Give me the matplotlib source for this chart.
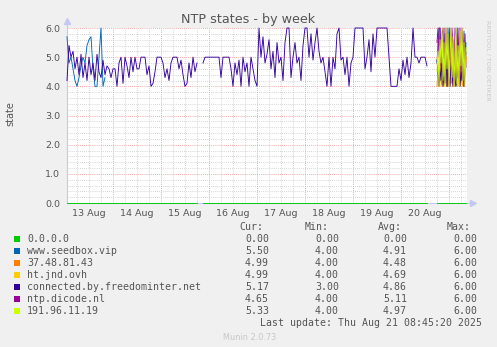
import numpy as np
import matplotlib
matplotlib.use('Agg')
import matplotlib.pyplot as plt
from matplotlib.patches import Rectangle
from matplotlib.lines import Line2D
from matplotlib.transforms import blended_transform_factory

W, H = 497, 347
nan = np.nan

# hours counted from 13 Aug 00:00
hours_main = np.arange(1, 182)          # h1 .. h181, hourly
hours_early = np.arange(1, 21)          # h1 .. h20
hours_end = np.arange(186, 201, 0.5)    # last half-hourly stretch

# connected.by.freedominter.net, whole week
freedom_main = [
    4.2, 5.4, 5.0, 5.2, 4.6, 5.0, 4.4, 5.1, 4.3, 4.8, 4.2, 5.0,
    4.4, 4.8, 4.2, 5.1, 4.5, 4.3, 4.9, 4.4, 4.7, 4.6, 4.3, 4.6,
    4.6, 4.0, 4.8, 5.0, 4.1, 5.0, 4.7, 4.3, 5.0, 4.5, 5.0, 4.6,
    4.6, 5.0, 5.0, 5.0, 4.4, 4.7, 4.0, 4.1, 4.5, 5.0, 5.0, 5.0,
    4.8, 4.3, 4.6, 4.2, 4.8, 5.0, 5.0, 5.0, 4.6, 4.9, 4.4, 4.0,
    4.1, 4.8, 4.3, 5.0, 4.5, 4.8, nan, nan, 4.8, 5.0, 5.0, 5.0,
    5.0, 5.0, 5.0, 5.0, 5.0, 4.3, 5.0, 5.0, 5.0, 5.0, 4.6, 4.0,
    4.8, 4.4, 4.9, 4.0, 5.0, 4.5, 4.8, 4.0, 5.0, 4.6, 4.2, 4.0,
    6.0, 5.0, 5.7, 4.8, 5.1, 5.6, 4.6, 5.2, 4.3, 5.5, 4.8, 5.0,
    4.2, 5.5, 6.0, 6.0, 4.3, 5.0, 5.5, 4.8, 5.0, 4.2, 5.4, 6.0,
    6.0, 5.0, 5.8, 4.9, 5.5, 6.0, 5.2, 4.8, 5.0, 4.5, 4.0, 5.0,
    4.0, 5.0, 4.6, 5.8, 6.0, 4.9, 5.0, 4.4, 5.0, 4.0, 4.8, 5.0,
    6.0, 6.0, 6.0, 6.0, 6.0, 4.6, 5.0, 5.6, 4.5, 5.8, 5.0, 6.0,
    6.0, 6.0, 6.0, 6.0, 6.0, 5.0, 4.0, 4.0, 4.0, 4.0, 4.6, 4.2,
    4.9, 4.4, 5.0, 4.3, 4.8, 6.0, 5.0, 5.0, 4.8, 5.0, 5.0, 5.0,
    4.7,
]
seedbox_early = [5.7, 4.8, 5.0, 4.6, 4.2, 4.0, 4.3, 4.7, 5.0, 4.8,
                 5.4, 5.6, 5.7, 4.6, 4.0, 4.0, 5.0, 6.0, 4.0, 4.3]

# last ~15 hours, all servers
seedbox_end = [4.8, 5.5, 6.0, 6.0, 5.2, 4.5, 5.0, 4.2, 5.8, 4.6,
               4.0, 5.3, 6.0, 4.4, 5.0, 4.1, 5.6, 4.8, 4.0, 5.2,
               6.0, 4.5, 4.9, 5.7, 4.2, 5.0, 4.6, 5.9, 4.4, 5.5]
ip37_end = [4.0, 4.6, 4.0, 5.0, 4.2, 4.0, 4.8, 4.0, 4.4, 5.2,
            4.0, 4.1, 4.6, 4.0, 5.5, 4.2, 4.0, 4.7, 4.0, 4.3,
            5.0, 4.0, 4.5, 4.0, 4.9, 4.1, 4.0, 5.2, 4.4, 4.99]
jnd_end = [5.0, 4.2, 4.8, 4.0, 5.5, 4.4, 4.0, 5.0, 4.6, 4.0,
           5.8, 4.3, 4.0, 4.9, 4.2, 5.3, 4.0, 4.5, 5.6, 4.1,
           4.0, 5.0, 4.4, 4.0, 5.4, 4.6, 4.0, 4.8, 4.3, 4.99]
freedom_end = [4.9, 4.5, 4.0, 4.6, 4.2, 5.0, 4.0, 4.4, 4.1, 5.2,
               4.0, 4.7, 4.3, 4.0, 4.8, 4.5, 4.0, 5.0, 4.2, 4.0,
               4.6, 4.3, 5.1, 4.0, 4.5, 4.2, 4.9, 4.0, 4.6, 5.17]
dicode_end = [5.5, 6.0, 5.0, 6.0, 4.6, 5.8, 6.0, 4.4, 6.0, 5.2,
              6.0, 4.0, 5.6, 6.0, 4.8, 6.0, 5.3, 4.2, 6.0, 5.7,
              4.5, 6.0, 5.0, 6.0, 4.3, 6.0, 5.4, 4.0, 5.8, 4.65]
ip191_end = [4.5, 5.2, 4.0, 5.6, 4.8, 6.0, 4.2, 5.5, 4.0, 6.0,
             4.6, 5.8, 4.0, 5.0, 6.0, 4.3, 5.7, 4.0, 5.2, 6.0,
             4.1, 5.4, 4.0, 5.9, 4.7, 6.0, 4.2, 5.5, 4.0, 5.33]

names = ['0.0.0.0', 'www.seedbox.vip', '37.48.81.43', 'ht.jnd.ovh',
         'connected.by.freedominter.net', 'ntp.dicode.nl', '191.96.11.19']
colors = ['#00cc00', '#0066b3', '#ff8000', '#ffcc00', '#330099', '#990099', '#ccff00']
cur = [0.00, 5.50, 4.99, 4.99, 5.17, 4.65, 5.33]
vmin = [0.00, 4.00, 4.00, 4.00, 3.00, 4.00, 4.00]
vavg = [0.00, 4.91, 4.48, 4.69, 4.86, 5.11, 4.97]
vmax = [0.00, 6.00, 6.00, 6.00, 6.00, 6.00, 6.00]

day_labels = ['13 Aug', '14 Aug', '15 Aug', '16 Aug', '17 Aug', '18 Aug', '19 Aug', '20 Aug']

# join stretches with a NaN so the line breaks in between
def joined(t1, v1, t2, v2):
    t = np.concatenate([t1, [(t1[-1] + t2[0]) / 2], t2])
    v = np.concatenate([v1, [nan], v2])
    return t, v

t_free, v_free = joined(hours_main, np.array(freedom_main), hours_end, np.array(freedom_end))
t_seed, v_seed = joined(hours_early, np.array(seedbox_early), hours_end, np.array(seedbox_end))
v_zero = np.where(np.isnan(v_free), nan, 0.0)

series = [
    (t_free, v_zero),
    (t_seed, v_seed),
    (hours_end, np.array(ip37_end)),
    (hours_end, np.array(jnd_end)),
    (t_free, v_free),
    (hours_end, np.array(dicode_end)),
    (hours_end, np.array(ip191_end)),
]

fig = plt.figure(figsize=(W / 100, H / 100), dpi=100, facecolor='#f0f0f0')
ax = fig.add_axes([67 / W, 1 - 203 / H, 400 / W, 175 / H])
ax.set_facecolor('white')

for (t, v), c in zip(series, colors):
    ax.plot(t, v, color=c, lw=0.65, clip_on=False, zorder=3)

ax.set_xlim(1, 201)
ax.set_ylim(0, 6)

# grid: red on days / whole units, grey on 6h / 0.2
ax.set_xticks(np.arange(24, 201, 24))
ax.set_xticks(np.arange(6, 201, 6), minor=True)
ax.set_xticklabels([])
ax.set_yticks(np.arange(0, 6.01, 1.0))
ax.set_yticks(np.arange(0, 6.01, 0.2), minor=True)
ax.set_yticklabels([f'{v:.1f}' for v in np.arange(0, 6.01, 1.0)])
ax.grid(which='minor', color='#c8c8c8', lw=0.6, ls=(0, (1, 1.5)))
ax.grid(which='major', color='#ee8f8f', lw=0.6, ls=(0, (1, 1.5)))
ax.set_axisbelow(True)
ax.tick_params(which='both', length=0)
ax.tick_params(axis='y', pad=5, labelsize=6.8, labelcolor='#555555')
for s in ax.spines.values():
    s.set_visible(False)

# axis lines with arrow heads
axis_col = '#c4c8f4'
ax.add_line(Line2D([0, 0], [0, 1.035], transform=ax.transAxes, color=axis_col, lw=0.8, clip_on=False, zorder=1))
ax.add_line(Line2D([0, 1.012], [0, 0], transform=ax.transAxes, color=axis_col, lw=0.8, clip_on=False, zorder=1))
ax.plot(0, 1.04, marker='^', ms=4, color=axis_col, transform=ax.transAxes, clip_on=False)
ax.plot(1.015, 0, marker='>', ms=4, color=axis_col, transform=ax.transAxes, clip_on=False)

trans = blended_transform_factory(ax.transData, ax.transAxes)
for i, lab in enumerate(day_labels):
    ax.text(12 + 24 * i, -10 / 175, lab, transform=trans, ha='center', va='center',
            fontsize=6.8, color='#555555')

fig.text(248.5 / W, 1 - 19 / H, 'NTP states - by week', ha='center', va='center',
         fontsize=9.2, color='#555555')
fig.text(10 / W, 1 - 114 / H, 'state', rotation=90, ha='center', va='center',
         fontsize=7, color='#555555')
fig.text(487.5 / W, 1 - 60 / H, 'RRDTOOL / TOBI OETIKER', rotation=270, ha='center', va='center',
         fontsize=4.5, color='#c8c8c8')

# legend table
mono = dict(family='DejaVu Sans Mono', fontsize=7.1, color='#555555', va='center')
row0 = 227.3
step = 12.0
for x, h in zip([239, 305, 378, 447], ['Cur:', 'Min:', 'Avg:', 'Max:']):
    fig.text(x / W, 1 - row0 / H, h, ha='left', **mono)
for i, name in enumerate(names):
    y = row0 + step * (i + 1)
    fig.add_artist(Rectangle((14 / W, 1 - (y + 3) / H), 6 / W, 6 / H,
                             transform=fig.transFigure, color=colors[i], lw=0))
    fig.text(27 / W, 1 - y / H, name, ha='left', **mono)
    for x, col in zip([269, 339, 407, 477], [cur, vmin, vavg, vmax]):
        fig.text(x / W, 1 - y / H, f'{col[i]:.2f}', ha='right', **mono)
fig.text(482 / W, 1 - (row0 + step * 8) / H, 'Last update: Thu Aug 21 08:45:20 2025',
         ha='right', **mono)
fig.text(249.5 / W, 1 - 337 / H, 'Munin 2.0.73', ha='center', va='center',
         fontsize=5.9, color='#c8c8c8')

fig.savefig('out.png', dpi=100, facecolor=fig.get_facecolor())
